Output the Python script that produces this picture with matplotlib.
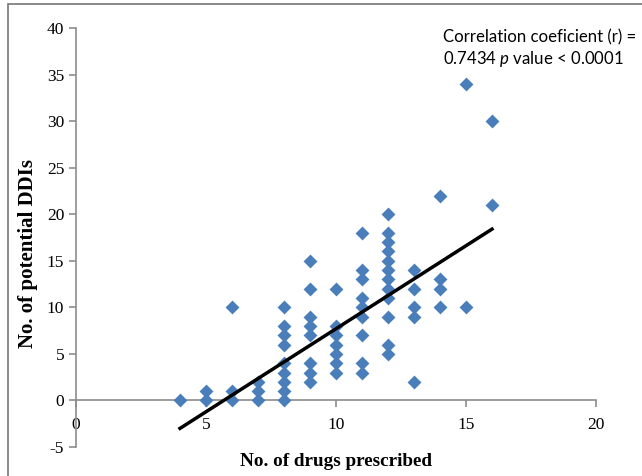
import numpy as np
import matplotlib
matplotlib.use("Agg")
import matplotlib.pyplot as plt
from matplotlib.patches import Rectangle

# drugs prescribed (x) and potential DDIs (y) per patient
drugs = [4,
         5, 5,
         6, 6, 6,
         7, 7, 7,
         8, 8, 8, 8, 8, 8, 8, 8, 8,
         9, 9, 9, 9, 9, 9, 9, 9,
         10, 10, 10, 10, 10, 10, 10,
         11, 11, 11, 11, 11, 11, 11, 11, 11,
         12, 12, 12, 12, 12, 12, 12, 12, 12, 12, 12, 12,
         13, 13, 13, 13, 13,
         14, 14, 14, 14,
         15, 15,
         16, 16]
ddis = [0,
        0, 1,
        0, 1, 10,
        0, 1, 2,
        0, 1, 2, 3, 4, 6, 7, 8, 10,
        2, 3, 4, 7, 8, 9, 12, 15,
        3, 4, 5, 6, 7, 8, 12,
        3, 4, 7, 9, 10, 11, 13, 14, 18,
        5, 6, 9, 11, 12, 13, 14, 15, 16, 17, 18, 20,
        2, 9, 10, 12, 14,
        10, 12, 13, 22,
        10, 34,
        21, 30]

# trend line end points as drawn in the chart
trend_x = [4, 16]
trend_y = [-3.0, 18.4]

x_ticks = [0, 5, 10, 15, 20]
y_ticks = [-5, 0, 5, 10, 15, 20, 25, 30, 35, 40]

plt.rcParams["mathtext.fontset"] = "custom"
plt.rcParams["mathtext.it"] = "Lato:italic"
plt.rcParams["mathtext.rm"] = "Lato"
plt.rcParams["axes.unicode_minus"] = False

fig = plt.figure(figsize=(6.42, 4.76), dpi=100)
W, H = 642, 476
ax = fig.add_axes([76 / W, (H - 447) / H, 520 / W, 419 / H])

ax.scatter(drugs, ddis, marker="D", s=50, color="#4a7ebb", zorder=3, linewidths=0)
ax.plot(trend_x, trend_y, color="black", lw=2.5, zorder=4)

ax.set_xlim(0, 20)
ax.set_ylim(-5, 40)

gray = "#8c8c8c"
for s in ["top", "right"]:
    ax.spines[s].set_visible(False)
ax.spines["bottom"].set_position(("data", 0))
ax.spines["bottom"].set_color(gray)
ax.spines["left"].set_color(gray)
ax.spines["bottom"].set_linewidth(1.2)
ax.spines["left"].set_linewidth(1.2)

ax.set_xticks(x_ticks)
ax.set_yticks(y_ticks)
ax.tick_params(axis="both", color=gray, width=1.2, length=5, direction="out")
ax.tick_params(axis="x", pad=7)
for lab in ax.get_xticklabels() + ax.get_yticklabels():
    lab.set_fontfamily("Liberation Serif")
    lab.set_fontsize(12.5)

fig.text(28 / W, 1 - 253 / H, "No. of potential DDIs", rotation=90,
         ha="center", va="center", fontfamily="Liberation Serif",
         fontweight="bold", fontsize=15)
fig.text(336 / W, 1 - 462 / H, "No. of drugs prescribed",
         ha="center", va="center", fontfamily="Liberation Serif",
         fontweight="bold", fontsize=13.8)

fig.text(443 / W, 1 - 37 / H, "Correlation coeficient (r) =",
         ha="left", va="center", fontfamily="Lato", fontsize=12.1)
fig.text(443 / W, 1 - 59 / H, "0.7434 $p$ value < 0.0001",
         ha="left", va="center", fontfamily="Lato", fontsize=12.1)

# outer frame of the figure
fig.patches.append(Rectangle((8 / W, -0.1), 1.2, 1 - 3.5 / H + 0.1,
                             transform=fig.transFigure, fill=False,
                             edgecolor="#777777", lw=1.2))

fig.savefig("out.png", dpi=100)
